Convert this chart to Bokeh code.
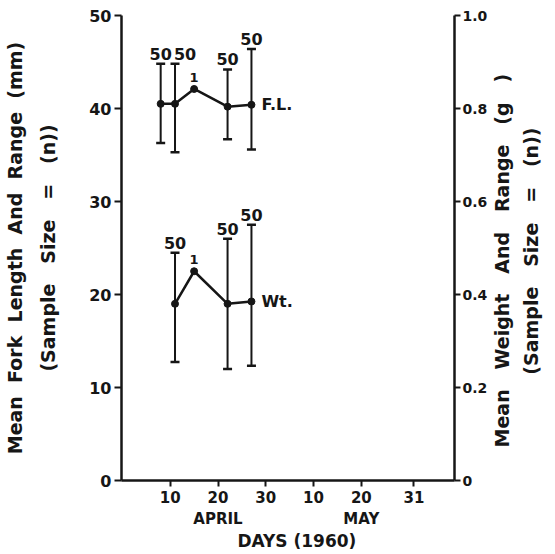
import math
from bokeh.plotting import figure
from bokeh.models import Range1d, LinearAxis, FixedTicker, ColumnDataSource, Whisker, TeeHead
from bokeh.embed import file_html
from bokeh.resources import INLINE
from bokeh.core.properties import value

# Sampling days, counted from 1 April 1960 (= day 1); May 31 is day 61
fl_days = [8, 11, 15, 22, 27]
fl_mean = [40.5, 40.5, 42.1, 40.2, 40.4]
fl_low = [36.3, 35.3, None, 36.7, 35.6]
fl_high = [44.8, 44.8, None, 44.2, 46.4]
fl_n = [50, 50, 1, 50, 50]

wt_days = [11, 15, 22, 27]
wt_mean = [0.38, 0.45, 0.38, 0.385]
wt_low = [0.255, None, 0.24, 0.247]
wt_high = [0.49, None, 0.52, 0.55]
wt_n = [50, 1, 50, 50]

x_ticks = [10, 20, 30, 40, 50, 61]
x_tick_labels = ["10", "20\nAPRIL", "30", "10", "20\nMAY", "31"]
fl_ticks = [0, 10, 20, 30, 40, 50]
wt_ticks = [0, 0.2, 0.4, 0.6, 0.8, 1.0]
wt_tick_labels = ["0", "0.2", "0.4", "0.6", "0.8", "1.0"]

INK = "#161616"
FONT = "DejaVu Sans"
NB = "\u00a0"


def spaced(words, gap):
    return (NB * gap).join(words)


p = figure(width=555, height=554, x_range=Range1d(-0.2, 69.5), y_range=Range1d(0, 50),
           output_backend="svg", toolbar_location=None,
           min_border_left=121, min_border_right=98, min_border_top=15, min_border_bottom=73)
p.extra_y_ranges = {"wt": Range1d(0, 1.0)}
p.outline_line_color = None
p.grid.visible = False
p.background_fill_color = "white"
p.border_fill_color = "white"


def style_axis(ax, size="16px"):
    ax.axis_line_width = 2.5
    ax.axis_line_color = INK
    ax.major_tick_line_width = 2
    ax.major_tick_line_color = INK
    ax.minor_tick_line_color = None
    ax.major_tick_in = 0
    ax.major_tick_out = 7
    ax.major_label_text_font = FONT
    ax.major_label_text_font_style = "bold"
    ax.major_label_text_font_size = size
    ax.major_label_text_color = INK
    ax.axis_label_text_font = FONT
    ax.axis_label_text_font_style = "bold"
    ax.axis_label_text_font_size = "19px"
    ax.axis_label_text_color = INK


def title_axis(label, y_range_name="default", standoff=9):
    ax = LinearAxis(y_range_name=y_range_name, ticker=FixedTicker(ticks=[]))
    style_axis(ax)
    ax.axis_line_color = None
    ax.major_tick_out = 0
    ax.major_label_standoff = 0
    ax.axis_label = label
    ax.axis_label_standoff = standoff
    return ax


def read_upward(ax):
    # right-hand titles read bottom to top, like the left-hand ones
    ax.axis_label_orientation = math.pi / 2
    ax.axis_label_align = "start"


# bottom axis: days
xa = p.xaxis[0]
style_axis(xa, "15px")
xa.ticker = FixedTicker(ticks=x_ticks)
xa.major_label_overrides = dict(zip(x_ticks, x_tick_labels))
xa.major_tick_out = 6
xa.major_label_standoff = 2
xa.axis_label = NB * 3 + "DAYS (1960)"
xa.axis_label_text_font_size = "17px"
xa.axis_label_standoff = 0

# left axis: fork length
ya = p.yaxis[0]
style_axis(ya)
ya.ticker = FixedTicker(ticks=fl_ticks)
ya.major_label_standoff = 3
ya.axis_label = spaced(["(Sample", "Size", "=", "(n))"], 3)
ya.axis_label_standoff = 27
p.add_layout(title_axis(spaced(["Mean", "Fork", "Length", "And", "Range", "(mm)"], 2), standoff=9), "left")

# right axis: weight
ra = LinearAxis(y_range_name="wt", ticker=FixedTicker(ticks=wt_ticks))
style_axis(ra, "14px")
ra.major_tick_out = 6
ra.major_label_standoff = 2
ra.major_label_overrides = dict(zip(wt_ticks, wt_tick_labels))
ra.axis_label = NB * 5 + spaced(["Mean", "Weight", "And", "Range", "(g", ")"], 3)
ra.axis_label_standoff = 12
read_upward(ra)
p.add_layout(ra, "right")
ra2 = title_axis(NB * 16 + spaced(["(Sample", "Size", "=", "(n))"], 3), y_range_name="wt", standoff=3)
read_upward(ra2)
p.add_layout(ra2, "right")


def draw_series(days, mean, low, high, n, name, range_name, nudge):
    # ranges (whiskers) only where n > 1
    idx = [i for i in range(len(days)) if low[i] is not None]
    src = ColumnDataSource(dict(x=[days[i] for i in idx], lo=[low[i] for i in idx],
                                hi=[high[i] for i in idx]))
    head = dict(size=9, line_width=2.5, line_color=INK)
    p.add_layout(Whisker(base="x", lower="lo", upper="hi", source=src, dimension="height",
                         line_width=2, line_color=INK, y_range_name=range_name,
                         upper_head=TeeHead(**head), lower_head=TeeHead(**head)))
    p.line(days, mean, line_width=2.5, line_color=INK, y_range_name=range_name)
    p.scatter(days, mean, size=7, fill_color=INK, line_color=INK, y_range_name=range_name)

    # sample size above each range
    lab = ColumnDataSource(dict(x=[days[i] for i in idx], y=[high[i] for i in idx],
                                t=[str(n[i]) for i in idx],
                                dx=[nudge.get(i, 0) for i in idx]))
    p.text("x", "y", "t", source=lab, x_offset="dx", y_offset=-4, text_align="center",
           text_baseline="bottom", text_font=value(FONT), text_font_style="bold",
           text_font_size="16px", text_color=INK, y_range_name=range_name)
    single = [i for i in range(len(days)) if low[i] is None]
    p.text([days[i] for i in single], [mean[i] for i in single], [str(n[i]) for i in single],
           y_offset=-7, text_align="center", text_baseline="bottom", text_font=value(FONT),
           text_font_style="bold", text_font_size="13px", text_color=INK, y_range_name=range_name)
    p.text([days[-1]], [mean[-1]], [name], x_offset=10, text_align="left",
           text_baseline="middle", text_font=value(FONT), text_font_style="bold",
           text_font_size="16px", text_color=INK, y_range_name=range_name)


draw_series(fl_days, fl_mean, fl_low, fl_high, fl_n, "F.L.", "default", {1: 10})
draw_series(wt_days, wt_mean, wt_low, wt_high, wt_n, "Wt.", "wt", {})

open("out.html", "w").write(file_html(p, INLINE))
